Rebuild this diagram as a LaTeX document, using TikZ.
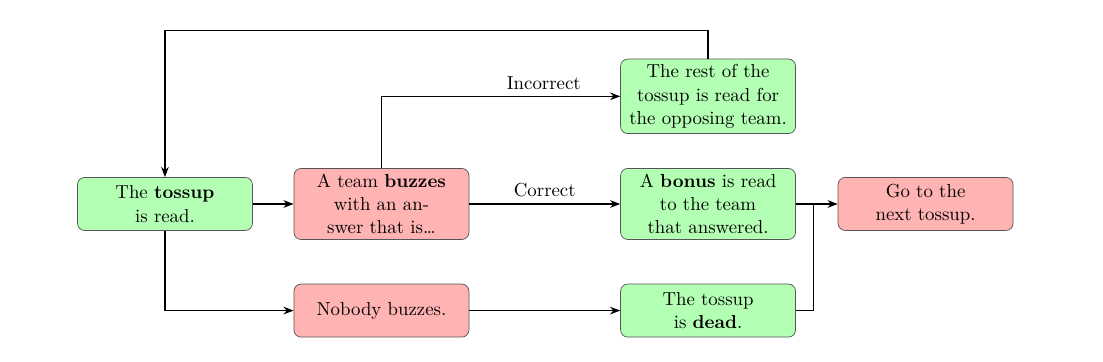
\documentclass[tikz,border=0pt]{standalone}
\usetikzlibrary{arrows.meta,positioning}
\definecolor{GoFill}{HTML}{B3FFB3}
\definecolor{StopFill}{HTML}{FFB3B3}
\definecolor{Edge}{HTML}{555555}
\tikzset{
  greenbox/.style={draw=Edge,fill=GoFill,rounded corners=4pt,text width=3.15cm,minimum height=1.04cm,align=center,inner xsep=4pt,inner ysep=3pt,font=\fontsize{10.5}{13}\selectfont},
  redbox/.style={draw=Edge,fill=StopFill,rounded corners=4pt,text width=3.15cm,minimum height=1.04cm,align=center,inner xsep=4pt,inner ysep=3pt,font=\fontsize{10.5}{13}\selectfont},
  line/.style={-{Stealth[length=2mm]},draw=black,line width=0.7pt},
  plainline/.style={draw=black,line width=0.7pt},
  tag/.style={above,font=\fontsize{10.5}{13}\selectfont}
}

\begin{document}
\begin{tikzpicture}
  \useasboundingbox (0,0) rectangle (21.63,-7.08);
  \node[greenbox] (tossup) at (3.235,-4.0) {The \textbf{tossup}\\ is read.};
  \node[redbox,right=0.8cm of tossup] (buzz) {A team \textbf{buzzes}\\ with an an-\\swer that is\ldots};
  \node[greenbox,right=2.96cm of buzz] (bonus) {A \textbf{bonus} is read\\ to the team\\ that answered.};
  \node[greenbox,above=0.67cm of bonus] (rest) {The rest of the\\ tossup is read for\\ the opposing team.};
  \node[redbox,right=0.82cm of bonus] (next) {Go to the\\ next tossup.};
  \node[redbox,below=0.86cm of buzz] (nobody) {Nobody buzzes.};
  \node[greenbox,right=2.96cm of nobody] (dead) {The tossup\\ is \textbf{dead}.};
  \coordinate[right=0.34cm of bonus.east] (join);

  \draw[line] (tossup) -- (buzz);
  \draw[line] (buzz) -- node[tag] {Correct} (bonus);
  \draw[line] (buzz.north) |- node[tag,pos=0.84] {Incorrect} (rest);
  \draw[line] (bonus) -- (next);
  \draw[line] (tossup.south) |- (nobody);
  \draw[line] (nobody) -- (dead);
  \draw[plainline] (dead.east) -| (join);
  \draw[line] (rest.north) -- ++(0,0.55) -| (tossup.north);
\end{tikzpicture}
\end{document}
